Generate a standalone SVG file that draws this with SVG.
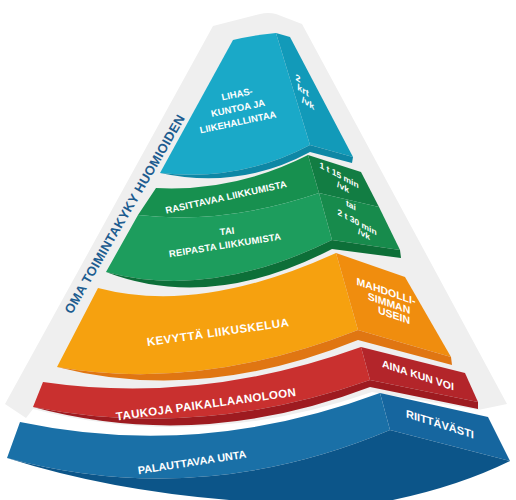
<svg xmlns="http://www.w3.org/2000/svg" width="516" height="500" viewBox="0 0 516 500">
<style>
.t{font-family:"Liberation Sans",Arial,sans-serif;font-weight:bold;fill:#fff;text-anchor:middle}
.oma{font-family:"Liberation Sans",Arial,sans-serif;font-weight:bold;fill:#1d5c8f;text-anchor:middle;font-size:13px;letter-spacing:0.3px}
</style>
<rect width="516" height="500" fill="#ffffff"/>
<g id="background">
<path d="M213,26 L260,14 Q268,12 276,14 L302,24 L507,404 L478,410 L372,392 Q200,452 33,409 L26,418 L5,404 Z" fill="#efefef"/>
<text class="oma" transform="translate(124.5,214) rotate(-60)" y="4.6">OMA TOIMINTAKYKY HUOMIOIDEN</text>
</g>
<g id="layer-blue">
<path d="M20,422 Q200,460 380,393 L390,430 Q200,510 7,458 Z" fill="#1a70a7"/>
<path d="M380,393 L488,417 L510,461 L390,430 Z" fill="#16669f"/>
<path d="M7,458 Q200,510 390,430 L510,461 Q455,488 383,502 L258,502 Q120,494 7,458 Z" fill="#0c5589"/>
<text class="t" font-size="10.8" transform="translate(192,462) rotate(-8.7)" y="3.9">PALAUTTAVAA UNTA</text>
<text class="t" font-size="11" transform="translate(440,424) skewY(17.5)" y="3.9">RIITTÄVÄSTI</text>
</g>
<g id="layer-red">
<path d="M43,382 Q200,405 361,347 L370,380 Q200,440 33,407 Z" fill="#c9302f"/>
<path d="M361,347 L465,373 L478,402 L370,380 Z" fill="#b3252a"/>
<path d="M33,407 Q200,440 370,380 L478,402 L478,409 L370,387 Q200,452 33,407 Z" fill="#9e1b20"/>
<text class="t" font-size="11.5" letter-spacing="0.35" transform="translate(206,404) rotate(-7.8)" y="4.1">TAUKOJA PAIKALLAANOLOON</text>
<text class="t" font-size="10.5" transform="translate(418,375) skewY(18)" y="3.8">AINA KUN VOI</text>
</g>
<g id="layer-orange">
<path d="M98,288 Q200,315 336,253 L358,330 Q200,392 57,367 Z" fill="#f6a10f"/>
<path d="M336,253 L405,277 L451,357 L358,330 Z" fill="#f08d0e"/>
<path d="M57,367 Q200,392 358,330 L451,357 L452,365 L358,340 Q200,404 57,367 Z" fill="#e07612"/>
<text class="t" font-size="11.5" letter-spacing="0.5" transform="translate(218,332) rotate(-8)" y="4.1">KEVYTTÄ LIIKUSKELUA</text>
<text class="t" font-size="10.5" transform="translate(386,291) skewY(19)" y="3.8">MAHDOLLI-</text>
<text class="t" font-size="10.5" transform="translate(389,303) skewY(19)" y="3.8">SIMMAN</text>
<text class="t" font-size="10.5" transform="translate(394,315) skewY(19)" y="3.8">USEIN</text>
</g>
<g id="layer-green">
<path d="M156,188 Q235,192 308,155 L319,193 Q225,225 138,215 Z" fill="#17904f"/>
<path d="M138,215 Q225,225 319,193 L332,240 Q210,300 106,272 Z" fill="#1d9d5d"/>
<path d="M308,155 L361,172 L379,207 L319,193 Z" fill="#127d43"/>
<path d="M319,193 L379,207 L400,250 L332,240 Z" fill="#178b4c"/>
<path d="M106,272 Q210,300 332,240 L400,250 L401,258 L332,249 Q210,312 106,272 Z" fill="#0d6f38"/>
<text class="t" font-size="9.5" letter-spacing="0.1" transform="translate(226,197) rotate(-12.5)" y="3.4">RASITTAVAA LIIKKUMISTA</text>
<text class="t" font-size="9.5" transform="translate(227,231) rotate(-6)" y="3.4">TAI</text>
<text class="t" font-size="9.5" letter-spacing="0.2" transform="translate(225,245) rotate(-9)" y="3.4">REIPASTA LIIKKUMISTA</text>
<text class="t" font-size="8.5" transform="translate(339,175) skewY(28)" y="3">1 t 15 min</text>
<text class="t" font-size="8.5" transform="translate(343,187) skewY(28)" y="3">/vk</text>
<text class="t" font-size="8.5" transform="translate(351,205) skewY(28)" y="3">tai</text>
<text class="t" font-size="8.5" transform="translate(357,222) skewY(28)" y="3">2 t 30 min</text>
<text class="t" font-size="8.5" transform="translate(364,234) skewY(28)" y="3">/vk</text>
</g>
<g id="layer-cyan">
<path d="M233,40 Q255,35 276,33 L310,145 Q240,182 160,173 Z" fill="#1aa9c8"/>
<path d="M276,33 L290,37 L353,157 L310,145 Z" fill="#129ab9"/>
<path d="M160,173 Q240,182 310,145 L353,157 L352,163 L310,152 Q240,190 160,173 Z" fill="#0e87a5"/>
<text class="t" font-size="9.5" transform="translate(237,94) rotate(-12)" y="3.4">LIHAS-</text>
<text class="t" font-size="9.5" transform="translate(238,108) rotate(-12)" y="3.4">KUNTOA JA</text>
<text class="t" font-size="9.5" transform="translate(238,122) rotate(-12)" y="3.4">LIIKEHALLINTAA</text>
<text class="t" font-size="9" transform="translate(298,78) skewY(32)" y="3.2">2</text>
<text class="t" font-size="9" transform="translate(303,90) skewY(32)" y="3.2">krt</text>
<text class="t" font-size="9" transform="translate(308,103) skewY(32)" y="3.2">/vk</text>
</g>
</svg>
